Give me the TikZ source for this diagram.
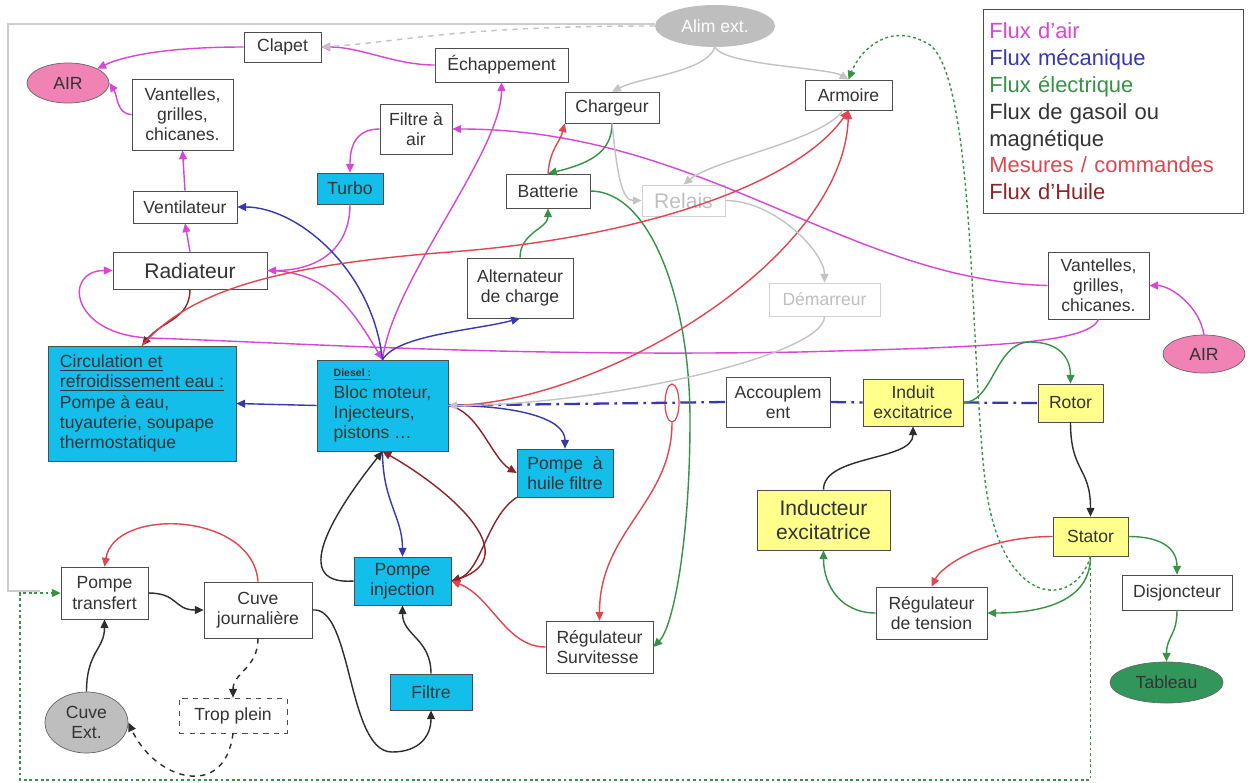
\documentclass[tikz,border=0pt]{standalone}
\usepackage{fontspec}
\setmainfont{Liberation Sans}
\usetikzlibrary{arrows.meta,shapes.geometric}

\definecolor{cyanbox}{RGB}{20,190,235}
\definecolor{jaunebox}{RGB}{255,255,140}
\definecolor{roseair}{RGB}{240,130,180}
\definecolor{vertab}{RGB}{50,150,90}
\definecolor{grisell}{RGB}{190,190,190}
\definecolor{fluxair}{RGB}{215,70,215}
\definecolor{fluxmeca}{RGB}{55,55,175}
\definecolor{fluxelec}{RGB}{55,145,70}
\definecolor{fluxgaz}{RGB}{45,45,45}
\definecolor{fluxmes}{RGB}{225,70,80}
\definecolor{fluxhuile}{RGB}{140,35,40}
\definecolor{fluxgris}{RGB}{195,195,195}

\begin{document}
\begin{tikzpicture}[x=0.02cm,y=-0.02cm,>={Triangle[length=5pt,width=4.5pt]},
  every node/.style={font=\fontsize{10}{11.5}\selectfont,text=black!80,inner sep=2pt},
  sz/.style 2 args={minimum width=#1*0.02cm,minimum height=#2*0.02cm},
  boite/.style={draw=black!70,fill=white,align=center},
  bleue/.style={boite,fill=cyanbox},
  jaune/.style={boite,fill=jaunebox},
  pale/.style={draw=black!18,fill=white,text=black!25,align=center},
  bulle/.style={ellipse,draw=black!60,align=center,inner sep=0pt},
  lien/.style={->,line width=0.8pt},
  air/.style={lien,fluxair},
  meca/.style={lien,fluxmeca},
  elec/.style={lien,fluxelec},
  gazole/.style={lien,fluxgaz},
  mesure/.style={lien,fluxmes},
  huile/.style={lien,fluxhuile},
  gris/.style={lien,fluxgris},
  arbre/.style={fluxmeca,line width=1.3pt,dash pattern=on 9pt off 3pt on 1.5pt off 3pt},
  pointille/.style={lien,fluxelec,dash pattern=on 1.6pt off 1.6pt}]
    \fill[white] (0,0) rectangle (1251,782);
    \useasboundingbox (0,0) rectangle (1251,782);
    \draw[black!20,line width=0.6pt] (655,24) -- (8,24) -- (8,591) -- (40,591);

    % noeuds
    \node[boite,sz={77}{30}] (clapet) at (282.5,47) {Clapet};
    \node[bulle,fill=roseair,sz={82}{40}] (airG) at (68,83) {AIR};
    \node[boite,sz={101}{71}] (vantG) at (182.5,114.5) {Vantelles,\\grilles,\\chicanes.};
    \node[boite,sz={104}{32}] (ventil) at (185,207) {Ventilateur};
    \node[boite,sz={154}{37},font=\fontsize{12}{14}\selectfont] (radiat) at (190,270.5) {Radiateur};
    \node[bleue,sz={188}{115},align=left] (circ) at (142,403.5) {\underline{Circulation et}\\\underline{refroidissement eau :}\\Pompe à eau,\\tuyauterie, soupape\\thermostatique};
    \node[boite,sz={133}{34}] (echap) at (501.5,65) {Échappement};
    \node[boite,sz={72}{50}] (filtreair) at (416,129) {Filtre à\\air};
    \node[bleue,sz={66}{31}] (turbo) at (350,188.5) {Turbo};
    \node[boite,sz={94}{31}] (chargeur) at (612,107.5) {Chargeur};
    \node[boite,sz={84}{34}] (batterie) at (548,191) {Batterie};
    \node[ellipse,fill=grisell,text=white,sz={120}{42},inner sep=0pt] (alim) at (715,26) {Alim ext.};
    \node[boite,sz={87}{30}] (armoire) at (848.5,95) {Armoire};
    \node[pale,sz={83}{31},font=\fontsize{12}{14}\selectfont] (relais) at (683.5,200.5) {Relais};
    \node[boite,sz={106}{60}] (altern) at (520,288) {Alternateur\\de charge};
    \node[bleue,sz={131}{91},align=left] (diesel) at (382.5,405.5) {{\fontsize{6}{7}\selectfont\bfseries\underline{Diesel :}}\\[1pt]Bloc moteur,\\Injecteurs,\\pistons …};
    \node[bleue,sz={96}{48}] (pompeh) at (565,473) {Pompe~ à\\huile filtre};
    \node[pale,sz={111}{33}] (demarr) at (824.5,299.5) {Démarreur};
    \node[boite,sz={104}{50}] (accoup) at (778,402) {Accouplem\\ent};
    \node[jaune,sz={100}{47}] (induit) at (913,402.5) {Induit\\excitatrice};
    \node[jaune,sz={65}{38}] (rotor) at (1070.5,403) {Rotor};
    \node[boite,sz={101}{67}] (vantD) at (1098.5,285.5) {Vantelles,\\grilles,\\chicanes.};
    \node[bulle,fill=roseair,sz={82}{38}] (airD) at (1204,354) {AIR};
    \node[jaune,sz={133}{60},font=\fontsize{12}{14}\selectfont] (inducteur) at (823.5,520) {Inducteur\\excitatrice};
    \node[jaune,sz={75}{39}] (stator) at (1090.5,536.5) {Stator};
    \node[boite,sz={110}{35}] (disj) at (1177,592.5) {Disjoncteur};
    \node[bulle,fill=vertab,sz={113}{41}] (tableau) at (1166.5,682.5) {Tableau};
    \node[boite,sz={111}{52}] (regten) at (931.5,613) {Régulateur\\de tension};
    \node[boite,sz={107}{52},align=left] (regsur) at (599.5,647) {Régulateur\\Survitesse};
    \node[bleue,sz={97}{48}] (pompeinj) at (402.5,581) {Pompe\\injection};
    \node[bleue,sz={82}{36}] (filtre) at (431,692) {Filtre};
    \node[boite,sz={87}{52}] (pompetr) at (104.5,593) {Pompe\\transfert};
    \node[boite,sz={108}{56}] (cuvej) at (258,610) {Cuve\\journalière};
    \node[boite,dashed,sz={108}{35}] (trop) at (233,715.5) {Trop plein};
    \node[bulle,fill=grisell,sz={83}{61}] (cuveext) at (86.5,722.5) {Cuve\\Ext.};
    \node[ellipse,draw=fluxmes,line width=0.7pt,sz={14}{38},inner sep=0pt] (capteur) at (672,403) {};
    \node[draw=black!70,anchor=north west,sz={260}{204},inner sep=3pt,text width=4.96cm,align=left,font=\fontsize{12.5}{15.3}\selectfont] (legende) at (983,9)
      {\textcolor{fluxair}{Flux d'air}\\\textcolor{fluxmeca}{Flux mécanique}\\\textcolor{fluxelec}{Flux électrique}\\Flux de gasoil ou\\magnétique\\\textcolor{fluxmes}{Mesures / commandes}\\\textcolor{fluxhuile}{Flux d'Huile}};

    % flux d'air
    \draw[air] (echap.west) .. controls +(-40,0) and +(40,0) .. (clapet.east);
    \draw[air] (clapet.west) .. controls +(-80,0) and +(25,-12) .. (airG.north east);
    \draw[air] (vantG.west) .. controls +(-15,0) and +(8,12) .. (airG.east);
    \draw[air] (ventil.north) -- (vantG.south);
    \draw[air] (radiat.north) -- (ventil.south);
    \draw[air] (filtreair.west) .. controls +(-25,0) and +(0,-25) .. (turbo.north);
    \draw[air] (turbo.south) .. controls +(0,45) and +(50,0) .. (radiat.east);
    \draw[air] (radiat.east) .. controls +(60,0) and +(-30,-50) .. (diesel.north);
    \draw[air] (diesel.north) .. controls +(10,-80) and +(0,70) .. (echap.south);
    \draw[air] (vantD.west) .. controls +(-200,-5) and +(250,0) .. (filtreair.east);
    \draw[air] (airD.north) .. controls +(-5,-30) and +(20,0) .. (vantD.east);
    \draw[air] (vantD.south) .. controls +(-10,25) and +(180,-5) .. (800,352) .. controls +(-300,5) and +(150,5) .. (150,338) .. controls +(-80,-3) and +(-50,0) .. (radiat.west);

    % flux mecanique
    \draw[meca] (diesel.north) .. controls +(-10,-90) and +(60,0) .. (ventil.east);
    \draw[meca] (diesel.north) .. controls +(15,-25) and +(-45,12) .. (altern.south);
    \draw[meca] (diesel.west) -- (circ.east);
    \draw[meca] (diesel.east) .. controls +(70,0) and +(0,-30) .. (pompeh.north);
    \draw[meca] (diesel.south) .. controls +(0,50) and +(0,-40) .. (pompeinj.north);
    \draw[arbre] (diesel.east) -- (accoup.west);
    \draw[arbre] (accoup.east) -- (induit.west);
    \draw[arbre] (induit.east) -- (rotor.west);

    % flux electrique
    \draw[elec] (altern.north) .. controls +(0,-25) and +(0,20) .. (batterie.south);
    \draw[elec] (chargeur.south) .. controls +(0,30) and +(40,-10) .. (batterie.north);
    \draw[elec] (batterie.east) .. controls +(60,0) and +(0,-120) .. (690,420) .. controls +(0,120) and +(20,-20) .. (regsur.east);
    \draw[elec] (induit.east) .. controls +(30,0) and +(-35,0) .. (1030,342) .. controls +(30,0) and +(0,-25) .. (rotor.north);
    \draw[elec] (stator.south) .. controls +(0,45) and +(55,0) .. (regten.east);
    \draw[elec] (regten.west) .. controls +(-35,0) and +(0,35) .. (inducteur.south);
    \draw[elec] (stator.east) .. controls +(35,0) and +(0,-25) .. (disj.north);
    \draw[elec] (disj.south) .. controls +(0,25) and +(0,-25) .. (tableau.north);
    \draw[pointille] (stator.south) .. controls (1075,610) and (1000,610) .. (985,480) .. controls (970,350) and (975,80) .. (930,45) .. controls (890,20) and (860,50) .. (armoire.north);
    \coordinate (coin) at (20,780);
    \draw[pointille] (stator.south) |- (coin) |- (pompetr.west);

    % flux gasoil / magnetique
    \draw[gazole] (inducteur.north) .. controls +(0,-35) and +(0,35) .. (induit.south);
    \draw[gazole] (rotor.south) .. controls +(0,50) and +(0,-50) .. (stator.north);
    \draw[gazole] (pompetr.east) .. controls +(30,0) and +(-30,0) .. (cuvej.west);
    \draw[gazole] (cuveext.north) .. controls +(0,-40) and +(0,30) .. (pompetr.south);
    \draw[gazole] (cuvej.east) .. controls +(40,-5) and +(-45,0) .. (392,752) .. controls +(28,0) and +(0,25) .. (filtre.south);
    \draw[gazole] (filtre.north) .. controls +(0,-35) and +(0,30) .. (pompeinj.south);
    \draw[gazole,dashed] (cuvej.south) .. controls +(0,30) and +(0,-25) .. (trop.north);
    \draw[gazole,dashed] (trop.south) .. controls +(-8,67) and +(27,58) .. (cuveext.east);
    \draw[gazole] (pompeinj.west) .. controls +(-70,5) and +(-40,50) .. (diesel.south);

    % flux d'huile
    \draw[huile] (radiat.south) .. controls +(0,30) and +(20,-25) .. (circ.north);
    \draw[huile] (diesel.east) .. controls +(30,5) and +(-25,-15) .. (pompeh.west);
    \draw[huile] (pompeh.south west) .. controls +(-30,20) and +(30,-10) .. (pompeinj.east);
    \draw[huile] (pompeinj.east) .. controls +(80,-20) and +(70,40) .. (diesel.south);

    % mesures / commandes
    \draw[mesure] (regsur.west) .. controls +(-40,0) and +(40,15) .. (pompeinj.east);
    \draw[mesure] (capteur.south) .. controls +(0,80) and +(0,-90) .. (regsur.north);
    \draw[mesure] (cuvej.north) .. controls +(-5,-70) and +(10,-60) .. (pompetr.north);
    \draw[mesure] (stator.west) .. controls +(-70,0) and +(10,-20) .. (regten.north);
    \draw[mesure] (diesel.east) .. controls +(150,0) and +(-5,150) .. (armoire.south);
    \draw[mesure] (circ.north) .. controls +(48,-56) and +(-170,13) .. (450,252) .. controls +(200,-15) and +(-48,70) .. (armoire.south);
    \draw[mesure] (batterie.north) .. controls +(2,-25) and +(-5,20) .. (chargeur.south west);

    % demarrage
    \draw[gris] (alim.south) .. controls +(-10,25) and +(30,-15) .. (chargeur.north);
    \draw[gris] (alim.south) .. controls +(10,18) and +(-20,-12) .. (armoire.north);
    \draw[gris] (armoire.-110) .. controls +(-20,30) and +(30,-25) .. (relais.north);
    \draw[gris] (chargeur.south) .. controls +(5,50) and +(-20,0) .. (relais.west);
    \draw[gris] (relais.east) .. controls +(50,0) and +(0,-30) .. (demarr.north);
    \draw[gris] (demarr.south) .. controls +(0,40) and +(150,0) .. (diesel.east);
    \draw[gris,dashed] (alim.west) .. controls +(-200,0) and +(80,-5) .. (clapet.east);
\end{tikzpicture}
\end{document}
